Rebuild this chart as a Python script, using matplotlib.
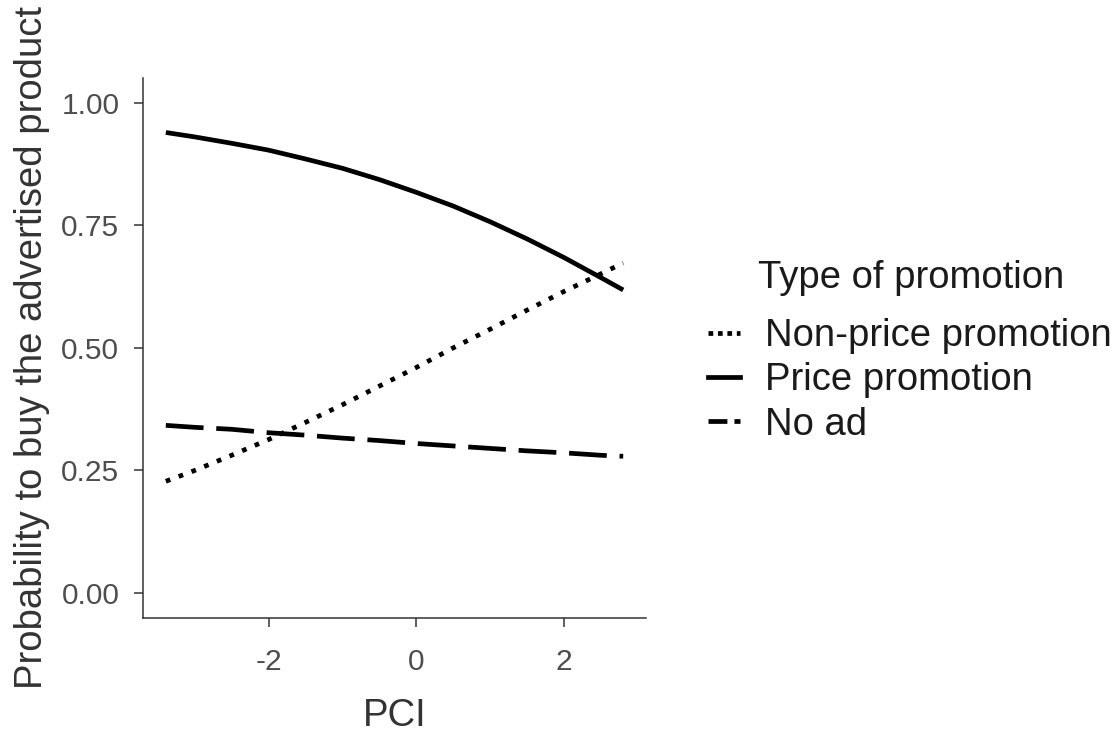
import numpy as np
import matplotlib.pyplot as plt
from matplotlib.lines import Line2D

plt.rcParams['font.family'] = ['Liberation Sans', 'DejaVu Sans']

pci = [-3.39, -3.0, -2.5, -2.0, -1.5, -1.0, -0.5, 0.0,
       0.5, 1.0, 1.5, 2.0, 2.5, 2.8]

# predicted probabilities per promotion type
non_price = [0.228, 0.250, 0.281, 0.313, 0.348, 0.384, 0.422, 0.460,
             0.500, 0.538, 0.577, 0.615, 0.651, 0.673]
price = [0.939, 0.930, 0.917, 0.903, 0.885, 0.866, 0.843, 0.817,
         0.789, 0.757, 0.722, 0.684, 0.643, 0.618]
no_ad = [0.342, 0.338, 0.334, 0.327, 0.322, 0.316, 0.311, 0.305,
         0.300, 0.295, 0.290, 0.286, 0.281, 0.279]

labels = ['Non-price promotion', 'Price promotion', 'No ad']

x_ticks = [-2, 0, 2]
y_ticks = [0.00, 0.25, 0.50, 0.75, 1.00]
y_ticklabels = ['0.00', '0.25', '0.50', '0.75', '1.00']

fig = plt.figure(figsize=(11.16, 7.34), dpi=100)
ax = fig.add_axes([0.1281, 0.1585, 0.4508, 0.7352])

lw = 3.4
dotted = (0, (1.0, 1.9))
longdash = (0, (8.0, 2.7))

ax.plot(pci, non_price, color='black', lw=lw, linestyle=dotted,
        dash_capstyle='butt')
ax.plot(pci, price, color='black', lw=lw, solid_capstyle='butt')
ax.plot(pci, no_ad, color='black', lw=lw, linestyle=longdash,
        dash_capstyle='butt')

# ggplot-like 5% expansion
span = pci[-1] - pci[0]
ax.set_xlim(pci[0] - 0.05 * span, pci[-1] + 0.05 * span)
ax.set_ylim(-0.05, 1.05)

ax.set_xticks(x_ticks)
ax.set_xticklabels([str(v) for v in x_ticks])
ax.set_yticks(y_ticks)
ax.set_yticklabels(y_ticklabels)

for side in ['top', 'right']:
    ax.spines[side].set_visible(False)
for side in ['left', 'bottom']:
    ax.spines[side].set_color('#333333')
    ax.spines[side].set_linewidth(1.1)

ax.tick_params(axis='both', length=6.5, width=1.1, color='#333333',
               labelsize=21.5, labelcolor='#4D4D4D')
ax.tick_params(axis='y', pad=10.5)
ax.tick_params(axis='x', pad=15)

ax.set_xlabel('PCI', fontsize=27.5, color='#333333', labelpad=16)
ax.set_ylabel('Probability to buy the advertised product', fontsize=27.5,
              color='#333333', labelpad=8)

# legend
handles = [
    Line2D([], [], color='black', lw=lw, linestyle=(0, (1.0, 1.0))),
    Line2D([], [], color='black', lw=lw),
    Line2D([], [], color='black', lw=lw, linestyle=(0, (4.0, 1.5))),
]
fig.text(758 / 1116, 1 - 278 / 734, 'Type of promotion', fontsize=27.5,
         color='#1A1A1A', va='center', ha='left')
leg = fig.legend(handles, labels, loc='upper left',
                 bbox_to_anchor=(708 / 1116, 1 - 318 / 734),
                 frameon=False, fontsize=27.5, handlelength=0.85,
                 handletextpad=0.65, labelspacing=0.22, borderpad=0,
                 borderaxespad=0)
for t in leg.get_texts():
    t.set_color('#1A1A1A')

fig.savefig('out.png', dpi=100)
